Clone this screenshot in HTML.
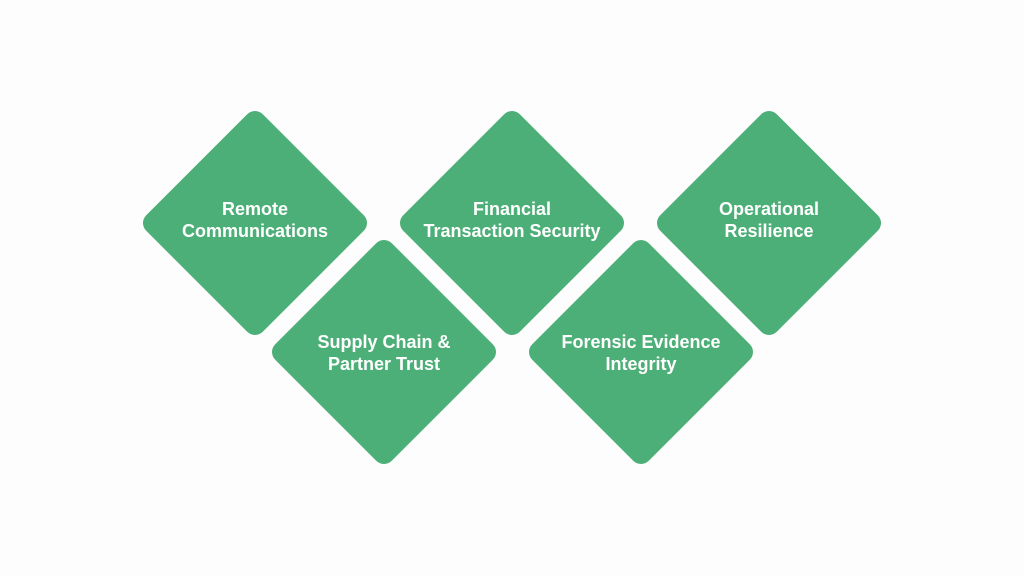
<!DOCTYPE html>
<html><head><style>
body{margin:0;background:#fdfdfd;}
svg{display:block}
text{font-family:"Liberation Sans",sans-serif;font-weight:bold;font-size:18px;fill:#fff;text-anchor:middle}
</style></head><body>
<svg width="1024" height="576" viewBox="0 0 1024 576">
<rect width="1024" height="576" fill="#fdfdfd"/>
<g fill="#4daf78" stroke="#4daf78" stroke-width="22" stroke-linejoin="round">
<polygon points="255,122 356,223 255,324 154,223"/>
<polygon points="512,122 613,223 512,324 411,223"/>
<polygon points="769,122 870,223 769,324 668,223"/>
<polygon points="384,251 485,352 384,453 283,352"/>
<polygon points="641,251 742,352 641,453 540,352"/>
</g>
<text x="255" y="215">Remote</text><text x="255" y="237">Communications</text>
<text x="512" y="215">Financial</text><text x="512" y="237">Transaction Security</text>
<text x="769" y="215">Operational</text><text x="769" y="237">Resilience</text>
<text x="384" y="348">Supply Chain &amp;</text><text x="384" y="370">Partner Trust</text>
<text x="641" y="348">Forensic Evidence</text><text x="641" y="370">Integrity</text>
</svg>
</body></html>
